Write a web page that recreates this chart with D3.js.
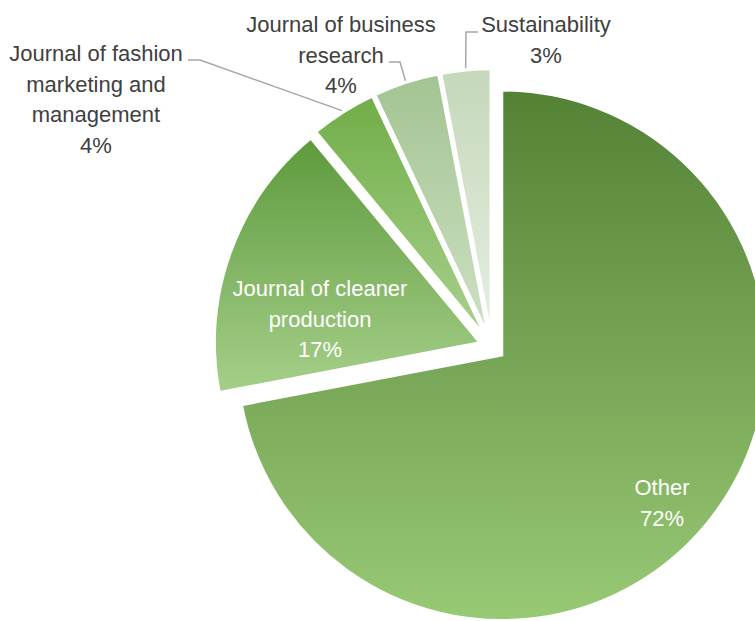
<!DOCTYPE html>
<html>
<head>
<meta charset="utf-8">
<script src="https://cdn.jsdelivr.net/npm/d3@7"></script>
<style>
    body { margin: 0; background: #ffffff; }
    #vis { display: block; }
</style>
</head>
<body>
<svg id="vis" width="755" height="621"></svg>
<script>
// journals, in the order Excel draws them (clockwise from 12 o'clock)
var journals = ["Other", "Journal of cleaner production", "Journal of fashion marketing and management",
    "Journal of business research", "Sustainability"];
var shares = [72, 17, 4, 4, 3];
var topColours = ["#548235", "#5e9a3d", "#70ad47", "#a3c492", "#c4d8ba"];
var bottomColours = ["#98c975", "#a5cf89", "#a9d18e", "#cde0c4", "#e6efe1"];

var w = 755;
var h = 621;
var cx = 492, cy = 347;
var radius = 265;
var explode = 13;

// where each label goes (lines, first baseline, leader line or not)
var labelLayout = [
    {lines: ["Other", "72%"], x: 662, y: 495, fill: "#ffffff"},
    {lines: ["Journal of cleaner", "production", "17%"], x: 320, y: 296, fill: "#ffffff"},
    {lines: ["Journal of fashion", "marketing and", "management", "4%"], x: 96, y: 61, fill: "#404040",
        leader: {x: 188, y: 60, elbow: 200, side: "right"}},
    {lines: ["Journal of business", "research", "4%"], x: 341, y: 32, fill: "#404040",
        leader: {x: 389, y: 62, elbow: 400, side: "right"}},
    {lines: ["Sustainability", "3%"], x: 546, y: 32, fill: "#404040",
        leader: {x: 478, y: 32, elbow: 466, side: "left"}}
];

var svg = d3.select("#vis");

var pie = d3.pie().sort(null).value(function(d) { return d; });
var arcs = pie(shares);

var arc = d3.arc().innerRadius(0).outerRadius(radius);

function offset(d) {
    var mid = (d.startAngle + d.endAngle) / 2;
    return [Math.sin(mid) * explode, -Math.cos(mid) * explode];
}

var defs = svg.append("defs");
defs.selectAll("linearGradient")
    .data(journals)
    .enter()
    .append("linearGradient")
    .attr("id", function(d, i) { return "grad" + i; })
    .attr("x1", 0).attr("y1", 0).attr("x2", 0).attr("y2", 1)
    .each(function(d, i) {
        d3.select(this).append("stop").attr("offset", "0%").attr("stop-color", topColours[i]);
        d3.select(this).append("stop").attr("offset", "100%").attr("stop-color", bottomColours[i]);
    });

var pieGroup = svg.append("g").attr("transform", "translate(" + cx + "," + cy + ")");

pieGroup.selectAll("path")
    .data(arcs)
    .enter()
    .append("path")
    .attr("d", arc)
    .attr("transform", function(d) {
        var o = offset(d);
        return "translate(" + o[0] + "," + o[1] + ")";
    })
    .attr("fill", function(d, i) { return "url(#grad" + i + ")"; })
    .attr("stroke", "#ffffff")
    .attr("stroke-width", 2.5)
    .attr("stroke-linejoin", "miter");

// leader lines end on the outer edge of the slice, at its middle
arcs.forEach(function(d, i) {
    var lay = labelLayout[i];
    if (!lay.leader) return;
    var mid = (d.startAngle + d.endAngle) / 2;
    var o = offset(d);
    var ex = cx + o[0] + Math.sin(mid) * (radius + 2);
    var ey = cy + o[1] - Math.cos(mid) * (radius + 2);
    var pts = [[lay.leader.x, lay.leader.y], [lay.leader.elbow, lay.leader.y], [ex, ey]];
    svg.append("path")
        .attr("d", d3.line()(pts))
        .attr("fill", "none")
        .attr("stroke", "#a6a6a6")
        .attr("stroke-width", 1.5);
});

var labels = svg.selectAll("text.label")
    .data(labelLayout)
    .enter()
    .append("text")
    .attr("class", "label")
    .attr("text-anchor", "middle")
    .attr("font-family", "'Liberation Sans', Arial, sans-serif")
    .attr("font-size", "22px")
    .attr("fill", function(d) { return d.fill; });

labels.selectAll("tspan")
    .data(function(d) {
        return d.lines.map(function(t, k) { return {t: t, x: d.x, y: d.y + k * 30.5}; });
    })
    .enter()
    .append("tspan")
    .attr("x", function(d) { return d.x; })
    .attr("y", function(d) { return d.y; })
    .text(function(d) { return d.t; });
</script>
</body>
</html>
